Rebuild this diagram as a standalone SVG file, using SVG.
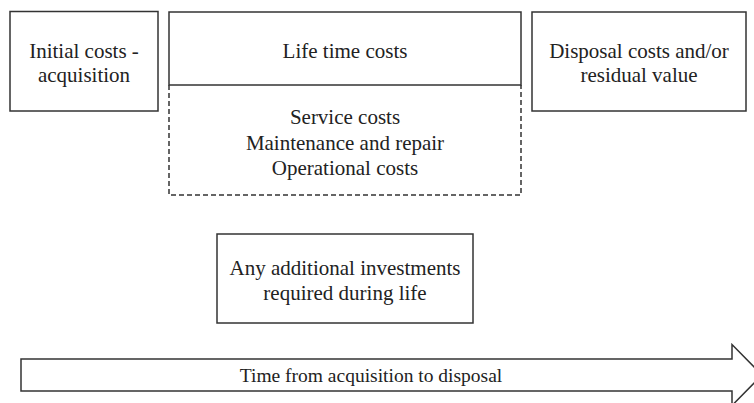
<svg xmlns="http://www.w3.org/2000/svg" width="754" height="403" viewBox="0 0 754 403">
<style>
.box{fill:#fff;stroke:#333;stroke-width:1.5}
.dash{fill:none;stroke:#333;stroke-width:1.5;stroke-dasharray:5 3}
.t{font-family:'Liberation Serif','Times New Roman','DejaVu Serif',serif;font-size:21px;fill:#222;text-anchor:middle}
.s{font-size:19.5px}
</style>
<rect width="754" height="403" fill="#fff"/>
<g id="initial">
<rect class="box" x="10" y="11.5" width="148" height="99.5"/>
<text class="t" x="84" y="58">Initial costs -</text>
<text class="t" x="84" y="82">acquisition</text>
</g>
<g id="lifetime">
<rect class="box" x="169" y="12" width="352" height="73"/>
<text class="t" x="345" y="58">Life time costs</text>
</g>
<g id="service">
<path class="dash" d="M169 85 V195 H521 V85"/>
<text class="t" x="345" y="124">Service costs</text>
<text class="t" x="345" y="150">Maintenance and repair</text>
<text class="t" x="345" y="175">Operational costs</text>
</g>
<g id="disposal">
<rect class="box" x="532" y="12" width="214" height="99"/>
<text class="t" x="639" y="58">Disposal costs and/or</text>
<text class="t" x="639" y="82">residual value</text>
</g>
<g id="additional">
<rect class="box" x="217" y="234" width="256" height="89"/>
<text class="t" x="345" y="275">Any additional investments</text>
<text class="t" x="345" y="300">required during life</text>
</g>
<g id="connectors">
<g id="timeline">
<path class="box" d="M21 359 H732 V344.5 L762 375 L732 405.5 V391 H21 Z"/>
<text class="t s" x="371" y="382">Time from acquisition to disposal</text>
</g>
</g>
</svg>
